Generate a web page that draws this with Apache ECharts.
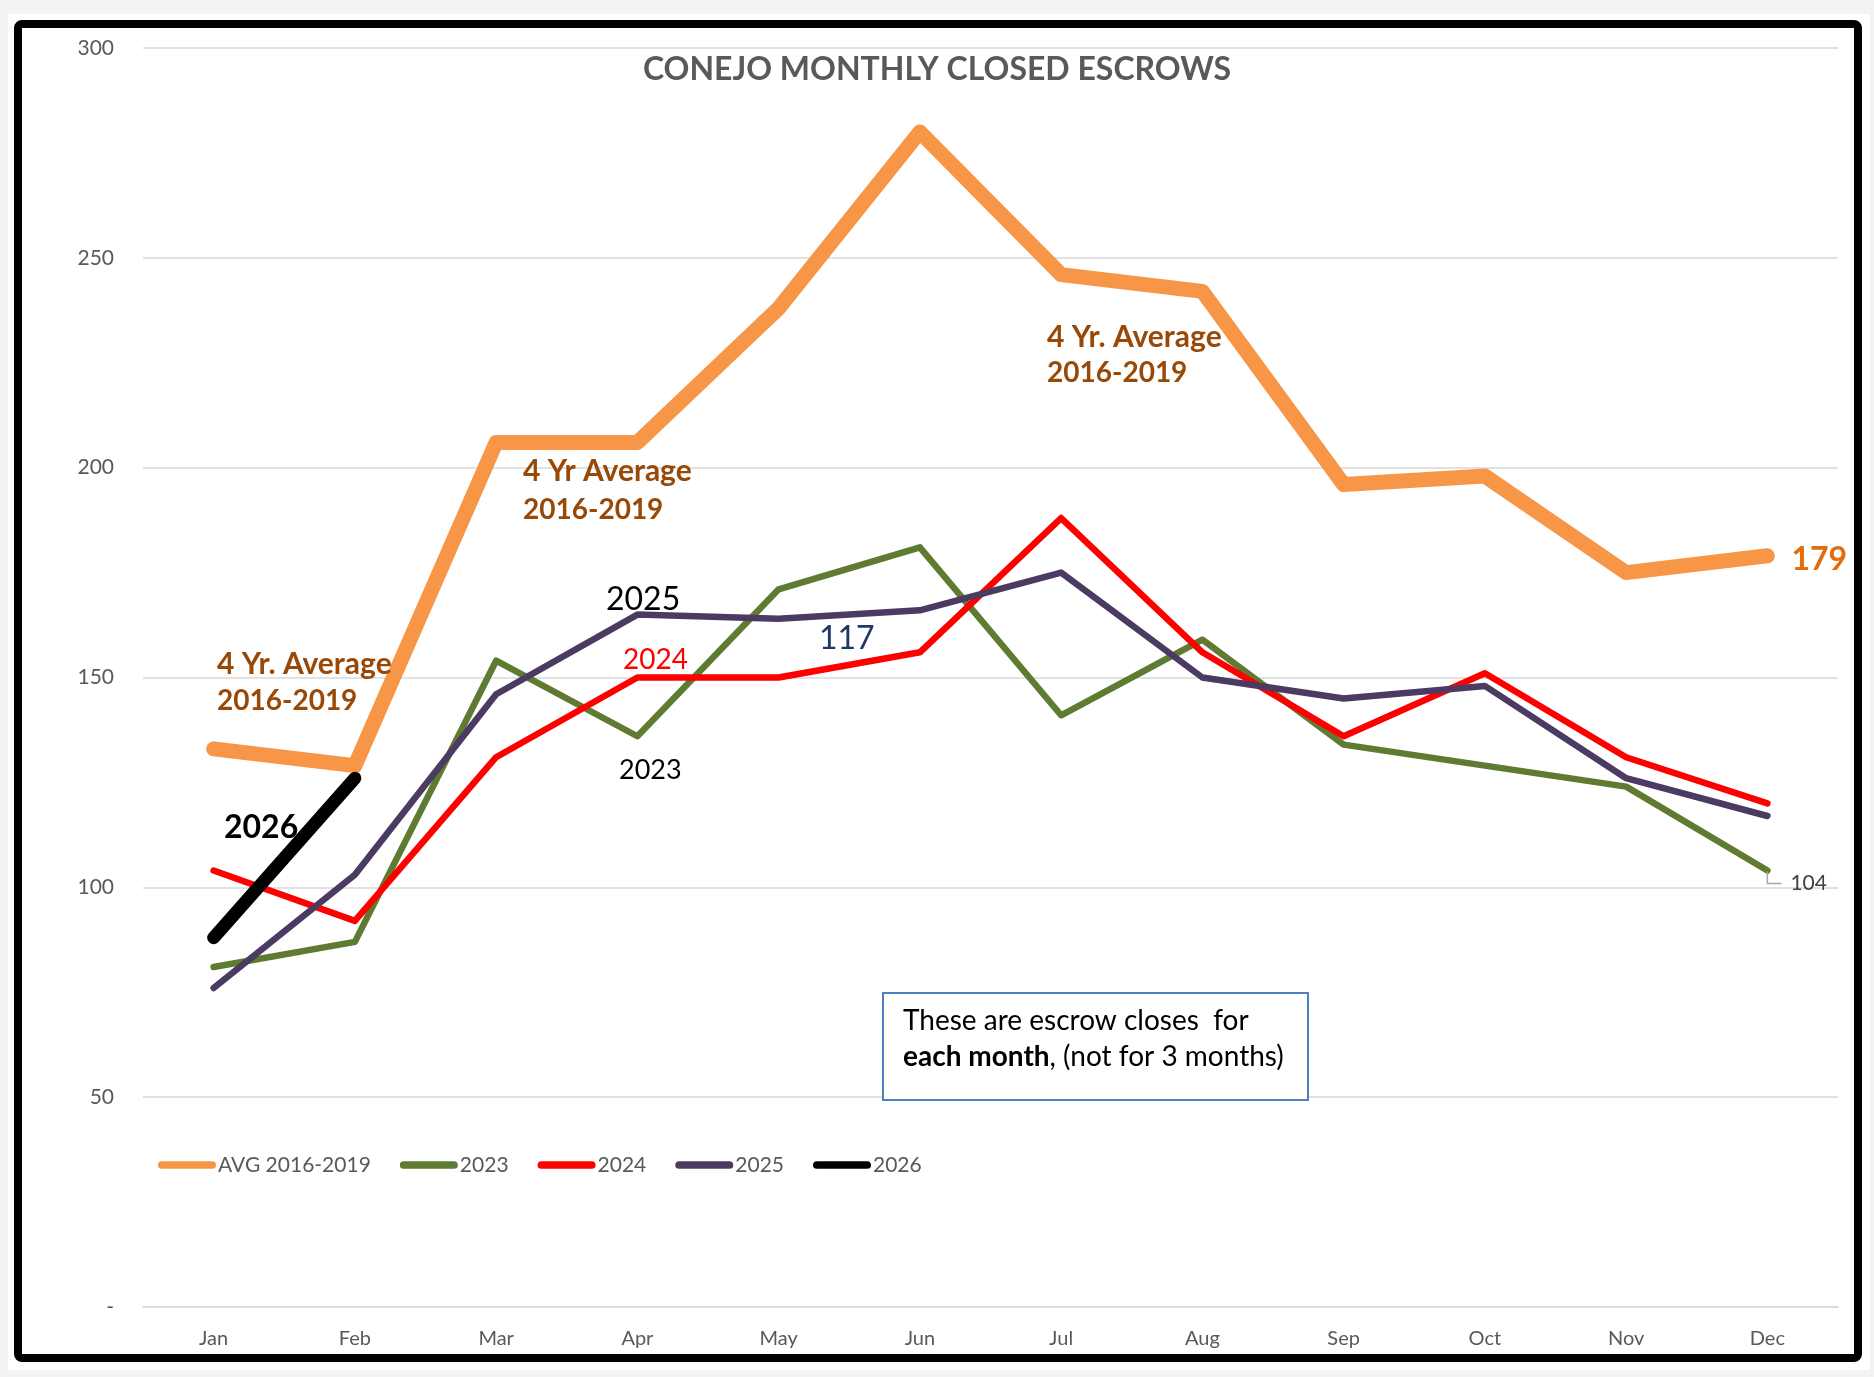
<!DOCTYPE html>
<html>
<head>
<meta charset="utf-8">
<script src="https://cdn.jsdelivr.net/npm/echarts@6/dist/echarts.min.js"></script>
<style>
  html, body { margin: 0; padding: 0; background: #f3f3f3; }
  #chart { width: 1874px; height: 1377px; }
</style>
</head>
<body>
<div id="chart"></div>
<script>
// ---- data ----
const months = ['Jan', 'Feb', 'Mar', 'Apr', 'May', 'Jun', 'Jul', 'Aug', 'Sep', 'Oct', 'Nov', 'Dec'];
const avg2016_2019 = [133, 129, 206, 206, 238, 280, 246, 242, 196, 198, 175, 179];
const y2023 = [81, 87, 154, 136, 171, 181, 141, 159, 134, 129, 124, 104];
const y2024 = [104, 92, 131, 150, 150, 156, 188, 156, 136, 151, 131, 120];
const y2025 = [76, 103, 146, 165, 164, 166, 175, 150, 145, 148, 126, 117];
const y2026 = [88, 126];
const seriesNames = ['AVG 2016-2019', '2023', '2024', '2025', '2026'];
const yTicks = [0, 50, 100, 150, 200, 250, 300];

const FONT = 'Lato, "Open Sans", sans-serif';
const chart = echarts.init(document.getElementById('chart'), null, { renderer: 'canvas' });

const capsule = 'path://M4,0 L56,0 A4,4 0 0 1 56,8 L4,8 A4,4 0 0 1 4,0 Z';

function lineSeries(name, data, color, width, extra) {
  return Object.assign({
    name: name,
    type: 'line',
    data: data,
    showSymbol: false,
    symbol: 'none',
    smooth: false,
    lineStyle: { color: color, width: width, cap: 'round', join: 'round' },
    itemStyle: { color: color },
    emphasis: { disabled: true }
  }, extra || {});
}

const option = {
  animation: false,
  backgroundColor: 'transparent',
  title: {
    text: 'CONEJO MONTHLY CLOSED ESCROWS',
    left: 'center',
    top: 48,
    textStyle: { fontFamily: FONT, fontSize: 32, fontWeight: 'bold', color: '#595959', lineHeight: 34 }
  },
  grid: { left: 143, right: 36, top: 48, bottom: 70, containLabel: false },
  legend: {
    data: seriesNames,
    left: 158,
    top: 1152,
    padding: 0,
    itemWidth: 58,
    itemHeight: 8,
    itemGap: 29,
    icon: capsule,
    textStyle: { fontFamily: FONT, fontSize: 21, color: '#595959', lineHeight: 26, padding: [0, 0, 0, -3] }
  },
  xAxis: {
    type: 'category',
    data: months,
    boundaryGap: true,
    axisLine: { show: true, lineStyle: { color: '#d9d9d9', width: 1.5 } },
    axisTick: { show: false },
    axisLabel: { fontFamily: FONT, fontSize: 20, color: '#595959', margin: 22 },
    splitLine: { show: false }
  },
  yAxis: {
    type: 'value',
    min: yTicks[0],
    max: yTicks[yTicks.length - 1],
    interval: 50,
    axisLine: { show: false },
    axisTick: { show: false },
    axisLabel: {
      fontFamily: FONT, fontSize: 21, color: '#595959', margin: 29,
      formatter: function (v) { return v === 0 ? '-' : String(v); }
    },
    splitLine: { show: true, lineStyle: { color: '#d9d9d9', width: 1.5 } }
  },
  series: [
    lineSeries(seriesNames[0], avg2016_2019, '#F79646', 15, {
      endLabel: {
        show: true, formatter: '{c}', distance: 24, offset: [0, 4],
        fontFamily: FONT, fontSize: 32, fontWeight: 'bold', color: '#E46C0A'
      }
    }),
    lineSeries(seriesNames[1], y2023, '#5F7A31', 6.5, {
      endLabel: {
        show: true, formatter: '{c}', distance: 23, offset: [0, 13],
        fontFamily: FONT, fontSize: 21, color: '#404040'
      }
    }),
    lineSeries(seriesNames[2], y2024, '#FF0000', 6.5),
    lineSeries(seriesNames[3], y2025, '#4B3A62', 6.5),
    lineSeries(seriesNames[4], y2026, '#000000', 13)
  ]
};

chart.setOption(option);

// leader line for the "104" data label, positioned from the data point through the chart's scales
const p104 = chart.convertToPixel({ seriesIndex: 1 }, [months.length - 1, y2023[y2023.length - 1]]);

const brown = '#984807';
function txt(text, x, y, size, color, bold) {
  return {
    type: 'text', x: x, y: y, z: 50, silent: true,
    style: {
      text: text, fill: color, fontFamily: FONT, fontSize: size,
      fontWeight: bold ? 'bold' : 'normal', align: 'left', verticalAlign: 'middle'
    }
  };
}

chart.setOption({
  graphic: [{
    elements: [
      { type: 'rect', z: -100, silent: true, shape: { x: 8, y: 14, width: 1862, height: 1356 }, style: { fill: '#ffffff' } },
      { type: 'rect', z: 100, silent: true, shape: { x: 18, y: 24, width: 1840, height: 1334, r: 4 }, style: { fill: null, stroke: '#000000', lineWidth: 8 } },
      // annotations
      txt('4 Yr. Average', 217, 664, 30, brown, true),
      txt('2016-2019', 217, 701, 28, brown, true),
      txt('4 Yr Average', 523, 471, 30, brown, true),
      txt('2016-2019', 523, 510, 28, brown, true),
      txt('4 Yr. Average', 1047, 337, 30, brown, true),
      txt('2016-2019', 1047, 373, 28, brown, true),
      txt('2025', 606, 600, 32, '#000000', false),
      txt('117', 819, 639, 32, '#1F3864', false),
      txt('2024', 623, 660, 28, '#FF0000', false),
      txt('2023', 619, 770, 27, '#000000', false),
      txt('2026', 224, 828, 32, '#000000', true),
      {
        type: 'polyline', z: 40, silent: true,
        shape: { points: [[p104[0], p104[1] + 1], [p104[0], p104[1] + 13], [p104[0] + 14, p104[1] + 13]] },
        style: { stroke: '#a6a6a6', lineWidth: 1.5, fill: null }
      },
      // text box
      { type: 'rect', z: 30, silent: true, shape: { x: 883, y: 993, width: 425, height: 107 }, style: { fill: '#ffffff', stroke: '#5080BE', lineWidth: 2 } },
      txt('These are escrow closes  for', 903, 1021, 28, '#000000', false),
      {
        type: 'text', x: 903, y: 1057, z: 50, silent: true,
        style: {
          text: '{b|each month}{n|, (not for 3 months)}',
          align: 'left', verticalAlign: 'middle',
          rich: {
            b: { fontFamily: FONT, fontSize: 28, fontWeight: 'bold', fill: '#000000' },
            n: { fontFamily: FONT, fontSize: 28, fontWeight: 'normal', fill: '#000000' }
          }
        }
      }
    ]
  }]
});
</script>
</body>
</html>
